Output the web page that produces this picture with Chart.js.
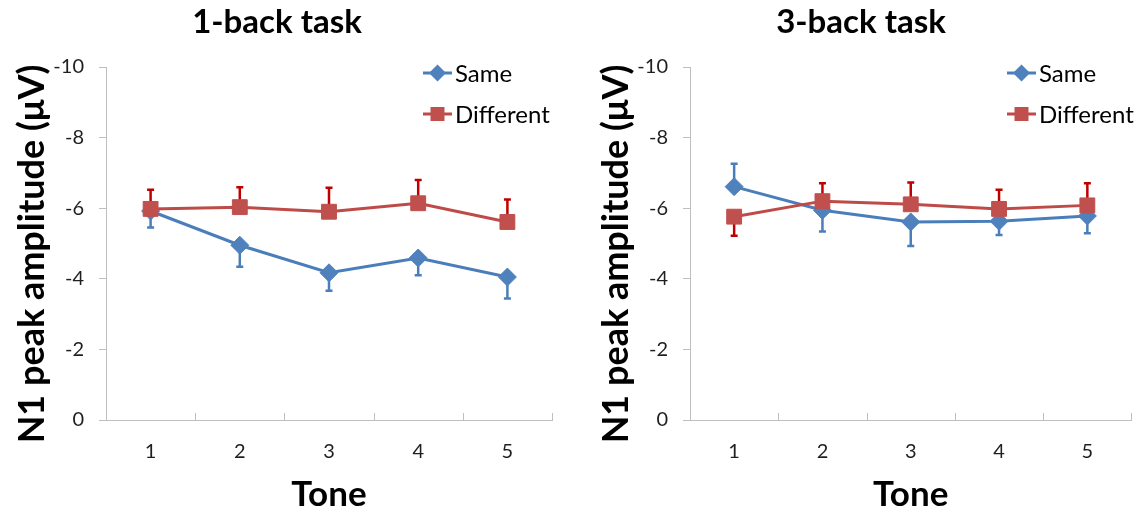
<!DOCTYPE html>
<html>
<head>
<meta charset="utf-8">
<script src="https://cdn.jsdelivr.net/npm/chart.js@4.4.1/dist/chart.umd.min.js"></script>
<style>
  html, body { margin: 0; padding: 0; background: #ffffff; }
  #wrap { display: flex; width: 1143px; height: 512px; }
  canvas { display: block; }
</style>
</head>
<body>
<div id="wrap">
  <canvas id="c1" width="584" height="512"></canvas>
  <canvas id="c2" width="559" height="512"></canvas>
</div>
<script>
// ---- Data ----
const tones = ['1', '2', '3', '4', '5'];
const yTicks = [0, -2, -4, -6, -8, -10];

// 1-back task
const oneBackSame = [-5.92, -4.95, -4.17, -4.59, -4.05];
const oneBackSameErrTip = [-5.45, -4.34, -3.66, -4.10, -3.44];
const oneBackDiff = [-5.98, -6.03, -5.90, -6.14, -5.61];
const oneBackDiffErrTip = [-6.52, -6.59, -6.58, -6.80, -6.25];

// 3-back task
const threeBackSame = [-6.61, -5.94, -5.61, -5.63, -5.78];
const threeBackSameErrTip = [-7.26, -5.34, -4.93, -5.24, -5.29];
const threeBackDiff = [-5.76, -6.20, -6.11, -5.98, -6.08];
const threeBackDiffErrTip = [-5.22, -6.71, -6.73, -6.52, -6.71];

const seriesNames = ['Same', 'Different'];
const panelTitles = ['1-back task', '3-back task'];
const xTitle = 'Tone';
const yTitle = 'N1 peak amplitude (\u03BCV)';

// ---- Styles ----
const FONT = 'Lato, "Open Sans", "DejaVu Sans", sans-serif';
const BLUE = '#4A7EBB', BLUE_FILL = '#4F81BD';
const RED = '#BE4B48', RED_FILL = '#C0504D', RED_ERR = '#C00000';
const AXIS = '#BFBFBF';
const TEXT = '#1F1F1F';

function drawDiamond(ctx, x, y, r) {
  ctx.beginPath();
  ctx.moveTo(x, y - r); ctx.lineTo(x + r, y); ctx.lineTo(x, y + r); ctx.lineTo(x - r, y);
  ctx.closePath(); ctx.fill();
}
function drawSquare(ctx, x, y, h) {
  ctx.fillRect(x - h, y - h, 2 * h, 2 * h);
}

const panelPlugin = {
  id: 'panelPlugin',
  beforeDatasetsDraw(chart) {
    const ctx = chart.ctx;
    const yS = chart.scales.y;
    ctx.save();
    chart.data.datasets.forEach((ds, i) => {
      const meta = chart.getDatasetMeta(i);
      ctx.strokeStyle = ds.errColor;
      ctx.lineWidth = 2.5;
      ctx.lineCap = 'butt';
      meta.data.forEach((pt, j) => {
        const x = pt.x;
        const y0 = yS.getPixelForValue(ds.data[j]);
        const y1 = yS.getPixelForValue(ds.errTips[j]);
        ctx.beginPath();
        ctx.moveTo(x, y0); ctx.lineTo(x, y1);
        ctx.moveTo(x - 3.5, y1); ctx.lineTo(x + 3.5, y1);
        ctx.stroke();
      });
    });
    ctx.restore();
  },
  afterDraw(chart) {
    const ctx = chart.ctx;
    const a = chart.chartArea;
    const xS = chart.scales.x;
    const opts = chart.options.plugins.panelPlugin;
    ctx.save();
    // inner x tick marks at category boundaries
    ctx.strokeStyle = AXIS;
    ctx.lineWidth = 1;
    const n = tones.length;
    const step = n > 1 ? xS.getPixelForValue(1) - xS.getPixelForValue(0) : 0;
    for (let k = 0; k <= n; k++) {
      const x = Math.round(xS.getPixelForValue(0) - step / 2 + k * step) + 0.5;
      ctx.beginPath();
      ctx.moveTo(x, a.bottom); ctx.lineTo(x, a.bottom - 7);
      ctx.stroke();
    }
    // panel title
    ctx.fillStyle = '#000';
    ctx.font = 'bold 33px ' + FONT;
    ctx.textAlign = 'center';
    ctx.textBaseline = 'alphabetic';
    ctx.fillText(opts.title, 277, 33);
    // y-axis title
    ctx.save();
    ctx.translate(44, 254);
    ctx.rotate(-Math.PI / 2);
    ctx.font = 'bold 36px ' + FONT;
    ctx.textAlign = 'center';
    ctx.textBaseline = 'alphabetic';
    ctx.fillText(yTitle, 0, 0);
    ctx.restore();
    // legend
    const items = [
      { label: seriesNames[0], color: BLUE, fill: BLUE_FILL, shape: 'diamond', y: 73 },
      { label: seriesNames[1], color: RED, fill: RED_FILL, shape: 'square', y: 114 }
    ];
    ctx.font = '24px ' + FONT;
    ctx.textAlign = 'left';
    ctx.textBaseline = 'middle';
    items.forEach(it => {
      ctx.strokeStyle = it.color;
      ctx.lineWidth = 3;
      ctx.beginPath();
      ctx.moveTo(423, it.y); ctx.lineTo(452, it.y);
      ctx.stroke();
      ctx.fillStyle = it.fill;
      if (it.shape === 'diamond') drawDiamond(ctx, 437.5, it.y, 8.5);
      else drawSquare(ctx, 437.5, it.y, 7);
      ctx.fillStyle = '#000';
      ctx.fillText(it.label, 455, it.y + 1);
    });
    ctx.restore();
  }
};

function makePanel(id, title, same, sameErr, diff, diffErr, rightPad) {
  return new Chart(document.getElementById(id), {
    type: 'line',
    data: {
      labels: tones,
      datasets: [
        {
          label: seriesNames[0], data: same, errTips: sameErr, errColor: BLUE,
          borderColor: BLUE, backgroundColor: BLUE_FILL, borderWidth: 3,
          pointStyle: 'rectRot', pointRadius: 9, pointBackgroundColor: BLUE_FILL,
          pointBorderColor: BLUE_FILL, pointBorderWidth: 1, tension: 0, order: 1
        },
        {
          label: seriesNames[1], data: diff, errTips: diffErr, errColor: RED_ERR,
          borderColor: RED, backgroundColor: RED_FILL, borderWidth: 3,
          pointStyle: 'rect', pointRadius: 10.5, pointBackgroundColor: RED_FILL,
          pointBorderColor: RED_FILL, pointBorderWidth: 1, tension: 0, order: 0
        }
      ]
    },
    options: {
      responsive: false,
      animation: false,
      events: [],
      layout: { padding: { top: 67, left: 0, right: rightPad, bottom: 0 } },
      plugins: {
        legend: { display: false },
        tooltip: { enabled: false },
        title: { display: false },
        panelPlugin: { title: title }
      },
      scales: {
        x: {
          type: 'category',
          offset: true,
          grid: { display: false, drawTicks: false },
          border: { display: true, color: AXIS, width: 1 },
          ticks: { color: TEXT, font: { family: FONT, size: 20 }, padding: 20, maxRotation: 0 },
          title: { display: true, text: xTitle, color: '#000',
                   font: { family: FONT, size: 35, weight: 'bold', lineHeight: 1.0 },
                   padding: { top: 7, bottom: 0 } },
          afterFit(scale) { scale.height = 92; }
        },
        y: {
          type: 'linear',
          reverse: true,
          min: -10, max: 0,
          afterBuildTicks(scale) { scale.ticks = yTicks.map(v => ({ value: v })); },
          grid: { display: true, drawOnChartArea: false, drawTicks: true, tickLength: 7, color: AXIS },
          border: { display: true, color: AXIS, width: 1 },
          ticks: { color: TEXT, font: { family: FONT, size: 20 }, padding: 15 },
          afterFit(scale) { scale.width = 106; }
        }
      }
    },
    plugins: [panelPlugin]
  });
}

makePanel('c1', panelTitles[0], oneBackSame, oneBackSameErrTip, oneBackDiff, oneBackDiffErrTip, 32);
makePanel('c2', panelTitles[1], threeBackSame, threeBackSameErrTip, threeBackDiff, threeBackDiffErrTip, 8);
</script>
</body>
</html>
